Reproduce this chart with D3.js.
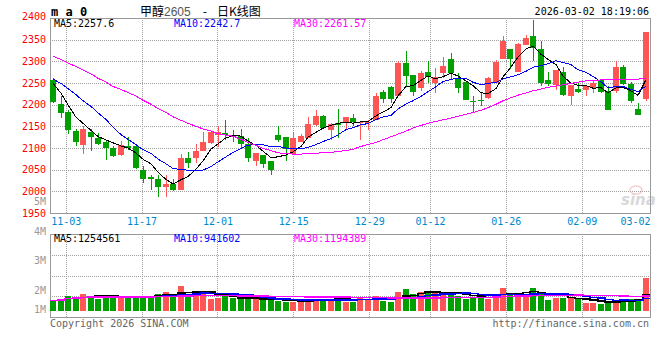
<!DOCTYPE html>
<html>
<head>
<meta charset="utf-8">
<script src="https://cdn.jsdelivr.net/npm/d3@7"></script>
<style>
  body { margin: 0; background: #fff; }
  svg { display: block; }
</style>
</head>
<body>
<div id="kline"></div>
<script>
// trading days shown (MM-DD)
const dates = [
  "10-30","10-31",
  "11-03","11-04","11-05","11-06","11-07","11-10","11-11","11-12","11-13","11-14",
  "11-17","11-18","11-19","11-20","11-21","11-24","11-25","11-26","11-27","11-28",
  "12-01","12-02","12-03","12-04","12-05","12-08","12-09","12-10","12-11","12-12",
  "12-15","12-16","12-17","12-18","12-19","12-22","12-23","12-24","12-25","12-26",
  "12-29","12-30","12-31","01-05","01-06","01-07","01-08","01-09",
  "01-12","01-13","01-14","01-15","01-16","01-19","01-20","01-21","01-22","01-23",
  "01-26","01-27","01-28","01-29","01-30","02-02","02-03","02-04","02-05","02-06",
  "02-09","02-10","02-11","02-12","02-13","02-24","02-25","02-26","02-27",
  "03-02"
];

const open  = [2256,2202,2184,2140,2107,2137,2123,2114,2101,2083,
               2105,2104,2050,2032,2029,2010,2018,2004,2076,2076,
               2092,2111,2131,2134,2130,2128,2110,2069,2083,2071,
               2130,2126,2087,2114,2123,2154,2174,2141,2157,2157,
               2169,2157,2158,2164,2229,2240,2219,2296,2269,2238,
               2275,2250,2273,2306,2261,2253,2209,2211,2215,2250,
               2305,2329,2276,2338,2359,2329,2256,2246,2275,2221,
               2237,2234,2238,2257,2231,2231,2286,2248,2191,2212];
const high  = [2261,2221,2188,2145,2150,2145,2134,2119,2105,2117,
               2125,2104,2059,2037,2038,2038,2029,2087,2090,2110,
               2136,2137,2150,2165,2141,2144,2122,2089,2083,2071,
               2150,2126,2137,2133,2171,2188,2177,2157,2190,2171,
               2179,2161,2165,2227,2233,2243,2300,2324,2269,2277,
               2300,2284,2311,2319,2273,2253,2220,2230,2265,2303,
               2359,2329,2343,2361,2395,2346,2276,2280,2286,2246,
               2253,2244,2255,2259,2244,2300,2292,2252,2204,2367];
const low   = [2205,2170,2132,2104,2087,2094,2107,2073,2079,2082,
               2096,2052,2019,2002,1988,1986,2001,2003,2053,2065,
               2092,2110,2103,2119,2113,2100,2067,2058,2055,2037,
               2115,2071,2087,2114,2123,2150,2146,2119,2123,2145,
               2151,2119,2142,2164,2205,2205,2219,2240,2219,2232,
               2250,2228,2261,2257,2228,2210,2180,2197,2213,2250,
               2305,2282,2276,2338,2301,2242,2243,2234,2219,2200,
               2227,2220,2228,2227,2187,2227,2245,2204,2177,2208];
const close = [2207,2180,2142,2113,2143,2125,2110,2101,2081,2107,
               2100,2054,2028,2028,2011,2016,2002,2077,2065,2094,
               2114,2136,2137,2130,2125,2110,2076,2089,2064,2050,
               2119,2098,2124,2128,2156,2174,2147,2156,2152,2171,
               2161,2160,2160,2220,2213,2213,2296,2267,2230,2274,
               2265,2263,2290,2273,2238,2211,2207,2209,2261,2298,
               2346,2305,2340,2355,2330,2251,2247,2280,2223,2246,
               2229,2242,2250,2229,2187,2286,2248,2209,2177,2367];

const volume = [800000,880000,1200000,1090000,1330000,1200000,930000,1250000,1040000,1010000,
                1040000,1170000,1170000,1120000,1330000,1520000,1120000,1970000,1250000,1600000,
                1600000,930000,990000,1170000,990000,930000,930000,930000,850000,850000,
                770000,720000,720000,720000,930000,930000,850000,930000,1090000,720000,
                720000,1010000,930000,1170000,770000,690000,1490000,1730000,1330000,1490000,
                1410000,1490000,1490000,1360000,1170000,930000,1090000,1170000,930000,1330000,
                1810000,1410000,1250000,1330000,1810000,1330000,850000,1010000,1040000,1040000,
                910000,640000,640000,560000,700000,780000,910000,910000,910000,2640000];

// moving averages of the close, as plotted
const ma5  = [2249.5,2226.5,2199.6,2171,2157,2140.6,2126.6,2118.4,2112,2104.8,
              2099.8,2088.6,2074,2063.4,2044.2,2027.4,2017,2026.8,2034.2,2050.8,
              2070.4,2097.2,2109.2,2122.2,2128.4,2127.6,2115.6,2106,2092.8,2077.8,
              2079.6,2084,2091,2103.8,2125,2136,2145.8,2152.2,2157,2160,
              2157.4,2160,2160.8,2174.4,2182.8,2193.2,2220.4,2241.8,2243.8,2256,
              2266.4,2259.8,2264.4,2273,2265.8,2255,2243.8,2227.6,2225.2,2237.2,
              2264.2,2283.8,2310,2328.8,2335.2,2316.2,2304.6,2292.6,2266.2,2249.4,
              2245,2244,2238,2239.2,2227.4,2238.8,2240,2231.8,2221.4,2257.6];
const ma10 = [2259,2249,2237,2223,2209,2196,2181,2166,2148,2130.9,
              2120.2,2107.6,2096.2,2087.7,2074.5,2063.6,2052.8,2050.4,2048.8,2047.5,
              2048.9,2057.1,2068,2078.2,2089.6,2099,2106.4,2107.6,2107.5,2103.1,
              2103.6,2099.8,2098.5,2098.3,2101.4,2107.8,2114.9,2121.6,2130.4,2142.5,
              2146.7,2152.9,2156.5,2165.7,2171.4,2175.3,2190.2,2201.3,2209.1,2219.4,
              2229.8,2240.1,2253.1,2258.4,2260.9,2260.7,2251.8,2246,2249.1,2251.5,
              2259.6,2263.8,2268.8,2277,2286.2,2290.2,2294.2,2301.3,2297.5,2292.3,
              2280.6,2274.3,2265.3,2252.7,2238.4,2241.9,2242,2234.9,2230.3,2242.7];
const ma30 = [2312,2304,2296,2288,2280,2271,2261,2252,2242,2235,
              2228,2220,2210,2201,2191,2182,2172,2164,2157,2150,
              2144,2139,2133,2130,2127,2120,2113,2106,2099,2094,
              2089,2087,2086,2086,2087,2088,2089,2090,2092,2094,
              2097,2103,2108,2113,2119,2126,2132,2139,2146,2152,
              2157,2161,2165,2169,2173,2178,2182,2187,2193,2201,
              2209,2215,2222,2227,2232,2236,2240,2243,2246,2249,
              2252,2255,2256,2257,2258,2258,2259,2259,2259,2261.57];

const priceTicks = [1950,2000,2050,2100,2150,2200,2250,2300,2350,2400];
const volTicks = [1,2,3,4,5];   // millions
const dateTicks = ["11-03","11-17","12-01","12-15","12-29","01-12","01-26","02-09","03-02"];
const priceLegend = ["MA5:2257.6","MA10:2242.7","MA30:2261.57"];
const volLegend = ["MA5:1254561","MA10:941602","MA30:1194389"];
const maColors = ["#000000","#0000ff","#ff00ff"];

const mono = "'DejaVu Sans Mono','Liberation Mono',monospace";
const upColor = "#ff5555", downColor = "#00a000", gridColor = "#a0a0a0", frameColor = "#999";

const svgWidth = 660, svgHeight = 360;
const left = 50, right = 650;
const priceTop = 18, priceBottom = 213;
const volTop = 234, volBottom = 317, volBase = 310.5;
const n = dates.length;

const svg = d3.select("#kline")
  .append("svg")
    .attr("width", svgWidth)
    .attr("height", svgHeight)
    .attr("font-family", mono)
    .attr("font-size", 10);

// candle slots, and the (slightly wider) date grid
const x = d3.scaleLinear().domain([0, n]).range([left, right]);
const gx = d3.scaleLinear().domain([0, n - 1]).range([left + 0.5, right]);
const y = d3.scaleLinear().domain([1950, 2400]).range([priceBottom, priceTop]);
const yv = d3.scaleLinear().domain([0, 1e6]).range([volBase, volBase - 12.5]);
const yvGrid = d3.scaleLinear().domain([0, 4]).range([volBottom, volTop]);
const yvLabel = d3.scaleLinear().domain([1, 5]).range([320.7, 201.5]);

const tickIdx = dateTicks.map(d => dates.indexOf(d));
const cx = i => Math.round(x(i));

svg.append("clipPath").attr("id", "clipPrice")
  .append("rect").attr("x", left).attr("y", priceTop).attr("width", right - left).attr("height", priceBottom - priceTop);
svg.append("clipPath").attr("id", "clipVol")
  .append("rect").attr("x", left).attr("y", volTop).attr("width", right - left).attr("height", volBottom - volTop);

// ---- grids
svg.append("g")
  .attr("transform", `translate(${left},0)`)
  .call(d3.axisLeft(y).tickValues(priceTicks.slice(1, -1)).tickSize(-(right - left)).tickFormat(""))
  .call(g => g.select(".domain").remove())
  .call(g => g.selectAll(".tick line").attr("stroke", gridColor).attr("stroke-dasharray", "1,1").attr("shape-rendering", "crispEdges"));

[[priceTop, priceBottom], [volTop, volBottom]].forEach(([t, b]) => {
  svg.append("g")
    .attr("transform", `translate(0,${b})`)
    .call(d3.axisBottom(gx).tickValues(tickIdx.slice(0, -1)).tickSize(-(b - t)).tickFormat(""))
    .call(g => g.select(".domain").remove())
    .call(g => g.selectAll(".tick line").attr("stroke", gridColor).attr("stroke-dasharray", "1,1").attr("shape-rendering", "crispEdges"));
});

svg.append("g")
  .attr("transform", `translate(${left},0)`)
  .call(d3.axisLeft(yvGrid).tickValues([1, 2, 3]).tickSize(-(right - left)).tickFormat(""))
  .call(g => g.select(".domain").remove())
  .call(g => g.selectAll(".tick line").attr("stroke", gridColor).attr("stroke-dasharray", "1,1").attr("shape-rendering", "crispEdges"));

// ---- frames
svg.append("rect").attr("x", left + 0.5).attr("y", priceTop + 0.5)
  .attr("width", right - left).attr("height", priceBottom - priceTop)
  .attr("fill", "none").attr("stroke", frameColor);
svg.append("rect").attr("x", left + 0.5).attr("y", volTop + 0.5)
  .attr("width", right - left).attr("height", volBottom - volTop)
  .attr("fill", "none").attr("stroke", frameColor);

// ---- sina watermark
const wm = svg.append("g").attr("opacity", 0.45);
wm.append("ellipse").attr("cx", 636).attr("cy", 190).attr("rx", 6).attr("ry", 4)
  .attr("fill", "none").attr("stroke", "#e99").attr("stroke-width", 1.5);
wm.append("text").attr("x", 621).attr("y", 205)
  .attr("font-family", "'DejaVu Sans',sans-serif").attr("font-size", 15)
  .attr("font-weight", "bold").attr("font-style", "italic").attr("fill", "#aaa").text("sina");

// ---- candles
const candle = svg.append("g").attr("clip-path", "url(#clipPrice)").attr("shape-rendering", "crispEdges");
const col = i => close[i] >= open[i] ? upColor : downColor;
candle.selectAll("line").data(d3.range(n)).join("line")
  .attr("x1", i => cx(i) + 3.5).attr("x2", i => cx(i) + 3.5)
  .attr("y1", i => y(high[i])).attr("y2", i => y(low[i]))
  .attr("stroke", col);
candle.selectAll("rect").data(d3.range(n)).join("rect")
  .attr("x", i => cx(i))
  .attr("width", 6)
  .attr("y", i => y(Math.max(open[i], close[i])))
  .attr("height", i => Math.max(1, Math.abs(y(open[i]) - y(close[i]))))
  .attr("fill", col);

// ---- price moving averages
[ma5, ma10, ma30].forEach((ma, k) => {
  svg.append("path")
    .attr("clip-path", "url(#clipPrice)")
    .attr("fill", "none")
    .attr("stroke", maColors[k])
    .attr("stroke-width", 1)
    .attr("shape-rendering", "crispEdges")
    .attr("d", d3.line().x(i => cx(i) + 3).y(i => y(ma[i]))(d3.range(n)));
});

// ---- volume bars
const vol = svg.append("g").attr("clip-path", "url(#clipVol)").attr("shape-rendering", "crispEdges");
vol.selectAll("rect").data(d3.range(n)).join("rect")
  .attr("x", i => cx(i))
  .attr("width", 6)
  .attr("y", i => yv(volume[i]))
  .attr("height", i => volBase - yv(volume[i]))
  .attr("fill", col);

// volume moving averages (step lines)
const movingAvg = (arr, w) => arr.map((d, i) => d3.mean(arr.slice(Math.max(0, i - w + 1), i + 1)));
[5, 10, 30].forEach((w, k) => {
  const m = movingAvg(volume, w);
  const pts = d3.range(n).map(i => [cx(i), yv(m[i])]);
  pts.push([x(n), yv(m[n - 1])]);
  vol.append("path")
    .attr("fill", "none")
    .attr("stroke", maColors[k])
    .attr("stroke-width", 1.5)
    .attr("d", d3.line().curve(d3.curveStepAfter)(pts));
});

// ---- axes labels
svg.append("g")
  .attr("transform", `translate(${left},0)`)
  .call(d3.axisLeft(y).tickValues(priceTicks).tickSize(0).tickPadding(4).tickFormat(d3.format("d")))
  .call(g => g.select(".domain").remove())
  .call(g => g.selectAll("text").attr("fill", "#ff0000").attr("font-family", mono).attr("font-size", 10)
    .filter(d => d === 2400).attr("dy", "0.1em"));

svg.append("g").selectAll("text").data(volTicks).join("text")
  .attr("x", left - 4)
  .attr("y", v => Math.min(yvLabel(v), 310))
  .attr("dy", "0.32em")
  .attr("text-anchor", "end")
  .attr("fill", "#999")
  .text(v => v + "M");

svg.append("g")
  .attr("transform", `translate(0,${priceBottom})`)
  .call(d3.axisBottom(gx).tickValues(tickIdx).tickSize(0).tickPadding(5).tickFormat(i => dates[i]))
  .call(g => g.select(".domain").remove())
  .call(g => g.selectAll("text").attr("fill", "#0088cc").attr("font-family", mono).attr("font-size", 10))
  .call(g => g.selectAll(".tick").filter(i => i === n - 1).select("text").attr("text-anchor", "end"));

// ---- legends
svg.append("g").selectAll("text").data(priceLegend).join("text")
  .attr("x", (d, i) => 54 + 120 * i).attr("y", 27)
  .attr("fill", (d, i) => maColors[i]).text(d => d);
svg.append("g").selectAll("text").data(volLegend).join("text")
  .attr("x", (d, i) => 54 + 120 * i).attr("y", 242)
  .attr("fill", (d, i) => maColors[i]).text(d => d);

// ---- header & footer
svg.append("text").attr("x", 51).attr("y", 16)
  .attr("font-weight", "bold").attr("font-size", 12).attr("fill", "#000").text("m a 0");

const title = svg.append("text").attr("x", 140).attr("y", 16)
  .attr("font-family", "'Noto Sans CJK SC',sans-serif").attr("font-size", 12).attr("fill", "#000");
title.append("tspan").text("甲醇");
title.append("tspan").attr("fill", "#555").attr("font-family", "'Liberation Sans',Arial,sans-serif").text("2605");
title.append("tspan").attr("dx", 12).text("-");
title.append("tspan").attr("dx", 10).text("日K线图");

svg.append("text").attr("x", 649).attr("y", 15)
  .attr("text-anchor", "end").attr("fill", "#000").text("2026-03-02 18:19:06");

svg.append("text").attr("x", 50).attr("y", 327)
  .attr("fill", "#666").text("Copyright 2026 SINA.COM");
svg.append("text").attr("x", 649).attr("y", 327)
  .attr("text-anchor", "end").attr("fill", "#666").text("http://finance.sina.com.cn");
</script>
</body>
</html>
